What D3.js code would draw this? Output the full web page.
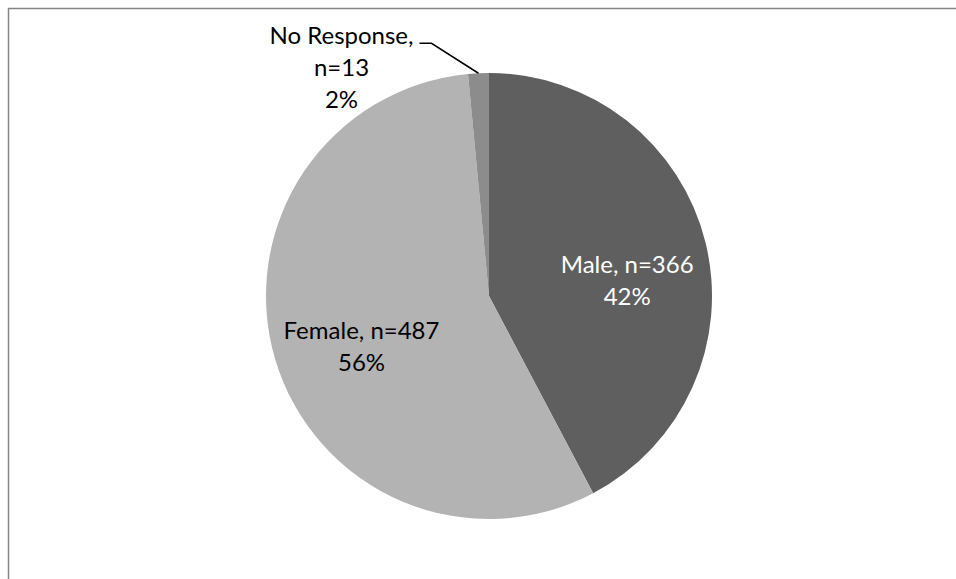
<!DOCTYPE html>
<html>
<head>
<meta charset="utf-8">
<script src="https://cdn.jsdelivr.net/npm/d3@7/dist/d3.min.js"></script>
<style>
  html, body { margin: 0; padding: 0; background: #fff; }
  svg { display: block; }
</style>
</head>
<body>
<svg id="chart" width="956" height="579"></svg>
<script>
// Respondents by gender
const categories = ["Male", "Female", "No Response"];
const counts = [366, 487, 13];
const percentLabels = ["42%", "56%", "2%"];
const colors = ["#5f5f5f", "#b3b3b3", "#8c8c8c"];

const width = 956, height = 579;
const cx = 489, cy = 296, radius = 223;
const fontFamily = "Lato, 'Open Sans', 'Liberation Sans', sans-serif";
const fontSize = 24;

const svg = d3.select("#chart");

// chart-area frame (runs off the right and bottom edges)
svg.append("rect")
  .attr("x", 8.5).attr("y", 8.5)
  .attr("width", 1000).attr("height", 1000)
  .attr("fill", "none")
  .attr("stroke", "#848484")
  .attr("stroke-width", 1.5);

const pie = d3.pie().sort(null).value(d => d.count);
const data = categories.map((c, i) => ({ name: c, count: counts[i], pct: percentLabels[i], color: colors[i] }));
const arcs = pie(data);

const arc = d3.arc().innerRadius(0).outerRadius(radius);

const g = svg.append("g").attr("transform", `translate(${cx},${cy})`);

g.selectAll("path.slice")
  .data(arcs)
  .join("path")
  .attr("class", "slice")
  .attr("d", arc)
  .attr("fill", d => d.data.color);

// label anchor positions, relative to the pie centre
const labelArc = d3.arc().innerRadius(radius * 0.62).outerRadius(radius * 0.62);

function drawLabel(x, y, lines, fill) {
  const t = g.append("text")
    .attr("text-anchor", "middle")
    .attr("font-family", fontFamily)
    .attr("font-size", fontSize)
    .attr("fill", fill);
  lines.forEach((ln, i) => {
    t.append("tspan").attr("x", x).attr("y", y + i * 32).text(ln);
  });
}

// Male (inside)
{
  const [x, y] = labelArc.centroid(arcs[0]);
  drawLabel(x + 4, y + 10, ["Male, n=" + counts[0], percentLabels[0]], "#ffffff");
}
// Female (inside)
{
  const [x, y] = labelArc.centroid(arcs[1]);
  drawLabel(x + 5, y + 3, ["Female, n=" + counts[1], percentLabels[1]], "#000000");
}
// No Response (outside with leader line)
{
  const a = arcs[2];
  const mid = (a.startAngle + a.endAngle) / 2;
  const px = radius * Math.sin(mid), py = -radius * Math.cos(mid);
  const ex = px - 47, ey = py - 30;
  g.append("polyline")
    .attr("points", [[px, py], [ex, ey], [ex - 12, ey]].map(p => p.join(",")).join(" "))
    .attr("fill", "none")
    .attr("stroke", "#000")
    .attr("stroke-width", 1.5);
  drawLabel(ex - 90, ey + 1, ["No Response,", "n=" + counts[2], percentLabels[2]], "#000000");
}
</script>
</body>
</html>
